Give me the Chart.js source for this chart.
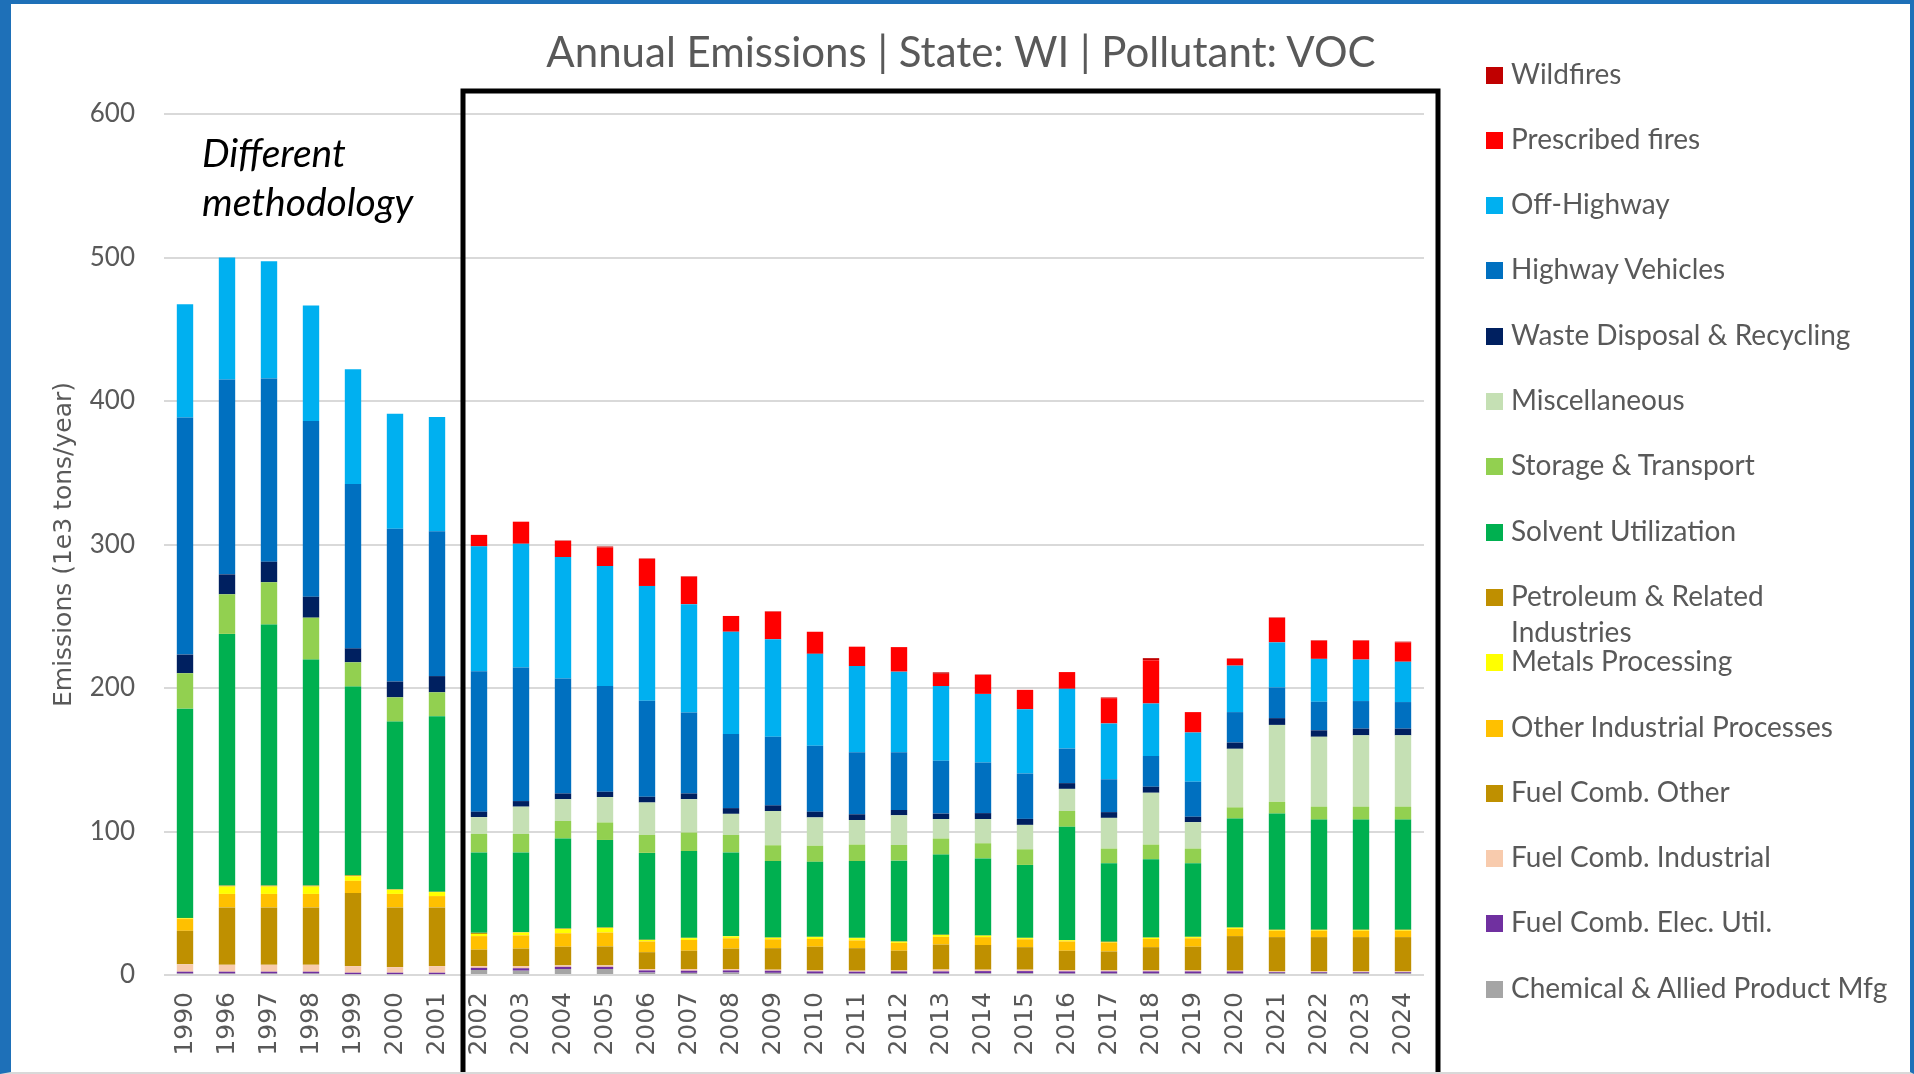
<!DOCTYPE html>
<html>
<head>
<meta charset="utf-8">
<title>Annual Emissions WI VOC</title>
<script src="https://cdn.jsdelivr.net/npm/chart.js@4.4.1/dist/chart.umd.min.js"></script>
<style>
  html, body { margin: 0; padding: 0; background: #fff; }
  #wrap { position: relative; width: 1914px; height: 1074px; overflow: hidden; }
  #chart { position: absolute; left: 0; top: 0; }
  #frame {
    position: absolute; left: 0; top: 0; width: 1914px; height: 1074px; box-sizing: border-box;
    border-left: 11px solid #1e70b8; border-top: 4px solid #1e70b8;
    border-right: 4px solid #1e70b8; border-bottom: 2px solid #d9d9d9;
    pointer-events: none;
  }
  #title {
    position: absolute; left: 961px; top: 26px; transform: translateX(-50%); white-space: nowrap;
    font-family: Lato, sans-serif; font-size: 42px; line-height: 50px; color: #595959;
  }
  #note {
    position: absolute; left: 202px; top: 128px;
    font-family: Lato, sans-serif; font-style: italic; font-size: 39px; line-height: 49px; color: #000;
  }
  #legend { position: absolute; left: 1486px; top: 0; font-family: Lato, sans-serif; color: #595959; }
  .item { position: absolute; left: 0; white-space: nowrap; font-size: 28px; line-height: 36px; }
  .item .box { position: absolute; left: 0; top: 12px; width: 17px; height: 17px; }
  .item .txt { position: absolute; left: 25px; top: 0; }
</style>
</head>
<body>
<div id="wrap">
  <canvas id="chart" width="1914" height="1074"></canvas>
  <div id="title">Annual Emissions | State: WI | Pollutant: VOC</div>
  <div id="note">Different<br>methodology</div>
  <div id="legend"></div>
  <div id="frame"></div>
</div>
<script>
const years = ['1990', '1996', '1997', '1998', '1999', '2000', '2001',
  '2002', '2003', '2004', '2005', '2006', '2007', '2008', '2009', '2010', '2011', '2012',
  '2013', '2014', '2015', '2016', '2017', '2018', '2019', '2020', '2021', '2022', '2023', '2024']

const yTicks = [0, 100, 200, 300, 400, 500, 600]

// values in 1e3 tons/year, one per year
const wildfires      = [0, 0, 0, 0, 0, 0, 0, 0, 0, 0.3, 0.7, 0.3, 0.3, 0, 0.3, 0, 0, 0, 1.0, 0.3, 0, 0, 0.5, 1.5, 0, 0.3, 0.3, 0.3, 0.3, 0.5]
const prescribed     = [0, 0, 0, 0, 0, 0, 0, 8.0, 15.4, 11.2, 12.9, 18.9, 19.2, 11.0, 19.2, 15.4, 13.5, 17.1, 8.5, 13.2, 13.5, 11.7, 17.6, 30.1, 14.2, 4.7, 17.1, 12.7, 13.2, 13.5]
const offHighway     = [78.9, 85.1, 81.8, 80.6, 79.9, 80.2, 79.5, 87.1, 86.2, 84.7, 83.6, 79.9, 75.4, 71.2, 68.0, 64.0, 60.0, 56.1, 52.1, 47.8, 44.8, 41.6, 38.9, 36.6, 34.3, 32.4, 31.4, 29.9, 28.9, 28.1]
const highway        = [165.2, 135.7, 127.6, 122.4, 114.6, 106.5, 101.0, 97.8, 93.1, 80.1, 73.7, 67.0, 56.5, 51.7, 47.8, 46.0, 43.3, 40.3, 36.8, 35.3, 31.6, 24.1, 22.9, 21.4, 24.4, 21.2, 21.4, 19.9, 19.2, 18.5]
const waste          = [13.0, 13.9, 14.3, 14.6, 9.7, 11.0, 11.3, 3.8, 3.9, 4.0, 3.7, 4.0, 4.0, 4.0, 3.9, 4.0, 4.0, 3.7, 3.8, 4.1, 4.2, 4.0, 4.0, 4.2, 3.8, 4.4, 4.7, 4.5, 4.7, 4.7]
const misc           = [0, 0, 0, 0, 0, 0, 0, 11.7, 19.0, 15.2, 17.7, 22.6, 23.2, 14.7, 23.9, 19.7, 17.1, 20.7, 13.6, 16.9, 17.0, 15.4, 21.4, 36.1, 18.4, 40.8, 53.6, 48.7, 49.7, 49.7]
const storage        = [24.7, 27.6, 29.5, 29.2, 16.9, 16.9, 16.6, 12.9, 12.9, 12.2, 12.2, 12.5, 12.9, 12.2, 11.0, 11.2, 11.5, 10.9, 11.2, 10.6, 10.9, 11.0, 10.2, 10.2, 10.2, 7.8, 8.2, 9.0, 9.0, 9.0]
const solvent        = [145.8, 175.4, 181.9, 157.5, 131.5, 116.9, 122.4, 56.0, 55.5, 62.7, 61.0, 60.5, 60.5, 58.3, 53.3, 52.3, 53.5, 56.3, 55.8, 53.6, 50.8, 78.9, 54.7, 54.6, 51.3, 75.9, 80.9, 76.7, 76.7, 76.7]
const petroleum      = [0.3, 0.6, 0.6, 0.6, 0.7, 0.3, 0.2, 0.8, 0.3, 0.3, 0.3, 0.2, 0.2, 0.2, 0.2, 0.2, 0.2, 0.2, 0.2, 0.2, 0.2, 0.2, 0.2, 0.2, 0.2, 0.2, 0.2, 0.2, 0.2, 0.2]
const metals         = [0.5, 5.2, 5.2, 5.2, 3.2, 2.9, 2.8, 1.5, 2.0, 3.0, 3.2, 1.0, 1.3, 1.3, 1.0, 1.3, 1.6, 0.8, 1.3, 1.0, 0.8, 0.8, 0.3, 0.8, 0.8, 0.8, 0.5, 0.5, 0.5, 0.5]
const otherInd       = [8.2, 9.4, 9.4, 9.4, 8.5, 9.4, 7.9, 9.4, 9.2, 9.4, 9.7, 7.5, 7.5, 7.2, 6.2, 5.4, 5.4, 5.5, 5.4, 5.5, 5.5, 6.5, 6.3, 5.7, 5.9, 5.0, 4.5, 4.5, 4.5, 4.5]
const fuelOther      = [23.3, 40.0, 40.0, 40.0, 50.9, 41.6, 40.9, 11.5, 12.2, 13.0, 13.2, 11.7, 12.7, 14.2, 15.0, 16.5, 15.7, 13.7, 17.4, 17.2, 15.7, 13.4, 13.2, 16.2, 16.5, 24.1, 23.9, 23.9, 23.9, 23.9]
const fuelIndustrial = [5.2, 4.8, 4.8, 4.8, 4.6, 3.9, 4.6, 1.2, 1.5, 1.0, 1.0, 1.0, 1.2, 1.0, 0.7, 0.7, 0.7, 0.7, 1.3, 1.0, 1.0, 1.0, 0.7, 0.7, 0.7, 0.5, 0.4, 0.4, 0.4, 0.4]
const elecUtil       = [1.3, 1.3, 1.3, 1.3, 1.0, 1.0, 1.0, 1.5, 1.7, 1.5, 1.5, 1.5, 1.5, 1.5, 1.5, 1.5, 1.3, 1.5, 1.5, 1.5, 1.5, 1.5, 1.5, 1.5, 1.5, 1.5, 0.6, 0.6, 0.6, 0.6]
const chemical       = [1.0, 1.0, 1.0, 1.0, 0.6, 0.6, 0.6, 3.5, 3.0, 4.2, 4.2, 1.7, 1.5, 1.7, 1.5, 1.0, 1.0, 1.0, 1.0, 1.2, 1.2, 1.0, 1.0, 1.0, 1.0, 1.0, 1.5, 1.5, 1.5, 1.5]

// legend order, top to bottom (stack order is the reverse)
const series = [
  { label: 'Wildfires', data: wildfires, color: '#c00000' },
  { label: 'Prescribed fires', data: prescribed, color: '#ff0000' },
  { label: 'Off-Highway', data: offHighway, color: '#00b0f0' },
  { label: 'Highway Vehicles', data: highway, color: '#0070c0' },
  { label: 'Waste Disposal & Recycling', data: waste, color: '#002060' },
  { label: 'Miscellaneous', data: misc, color: '#c5e0b4' },
  { label: 'Storage & Transport', data: storage, color: '#92d050' },
  { label: 'Solvent Utilization', data: solvent, color: '#00b050' },
  { label: 'Petroleum & Related Industries', data: petroleum, color: '#bf8f00', lines: ['Petroleum & Related', 'Industries'] },
  { label: 'Metals Processing', data: metals, color: '#ffff00' },
  { label: 'Other Industrial Processes', data: otherInd, color: '#ffc000' },
  { label: 'Fuel Comb. Other', data: fuelOther, color: '#bf9000' },
  { label: 'Fuel Comb. Industrial', data: fuelIndustrial, color: '#f8cbad' },
  { label: 'Fuel Comb. Elec. Util.', data: elecUtil, color: '#7030a0' },
  { label: 'Chemical & Allied Product Mfg', data: chemical, color: '#a5a5a5' }
]

const datasets = series.slice().reverse().map(s => ({
  label: s.label,
  data: s.data,
  backgroundColor: s.color,
  borderWidth: 0,
  barPercentage: 0.39,
  categoryPercentage: 1.0
}))

// html legend, text wraps like the original
const legendEl = document.getElementById('legend')
series.forEach((s, i) => {
  const item = document.createElement('div')
  item.className = 'item'
  item.style.top = (54.5 + i * 65.3) + 'px'
  const box = document.createElement('span')
  box.className = 'box'
  box.style.background = s.color
  const txt = document.createElement('span')
  txt.className = 'txt'
  txt.innerHTML = (s.lines || [s.label]).map(t => t.replace(/&/g, '&amp;')).join('<br>')
  item.appendChild(box)
  item.appendChild(txt)
  legendEl.appendChild(item)
})

// the black box around the 2002+ years
const methodBox = {
  id: 'methodBox',
  afterDraw(chart) {
    const x = chart.scales.x
    const y = chart.scales.y
    const left = (x.getPixelForValue(6) + x.getPixelForValue(7)) / 2 + 5
    const right = chart.chartArea.right + 14
    const top = y.getPixelForValue(600) - 23
    const ctx = chart.ctx
    ctx.save()
    ctx.strokeStyle = '#000'
    ctx.lineWidth = 5
    ctx.beginPath()
    ctx.moveTo(left, chart.height + 5)
    ctx.lineTo(left, top)
    ctx.lineTo(right, top)
    ctx.lineTo(right, chart.height + 5)
    ctx.stroke()
    ctx.restore()
  }
}

new Chart(document.getElementById('chart'), {
  type: 'bar',
  data: { labels: years, datasets: datasets },
  plugins: [methodBox],
  options: {
    responsive: false,
    animation: false,
    layout: { padding: { left: 0, right: 490, top: 114, bottom: 0 } },
    plugins: {
      legend: { display: false },
      tooltip: { enabled: false },
      title: { display: false }
    },
    scales: {
      x: {
        stacked: true,
        grid: { display: false },
        border: { display: false },
        ticks: {
          color: '#595959',
          font: { family: 'DejaVu Sans', size: 25 },
          minRotation: 90,
          maxRotation: 90,
          padding: 9,
          autoSkip: false
        },
        afterFit(scale) { scale.height = 99 }
      },
      y: {
        stacked: true,
        min: 0,
        max: 600,
        afterBuildTicks(scale) { scale.ticks = yTicks.map(v => ({ value: v })) },
        grid: { color: '#d9d9d9', lineWidth: 2, drawTicks: false },
        border: { display: false },
        ticks: {
          color: '#595959',
          font: { family: 'Lato', size: 26 },
          padding: 29
        },
        title: {
          display: true,
          text: 'Emissions (1e3 tons/year)',
          color: '#595959',
          font: { family: 'DejaVu Sans', size: 25 },
          padding: { top: 49, bottom: 0 }
        },
        afterFit(scale) { scale.width = 164 }
      }
    }
  }
})
</script>
</body>
</html>
